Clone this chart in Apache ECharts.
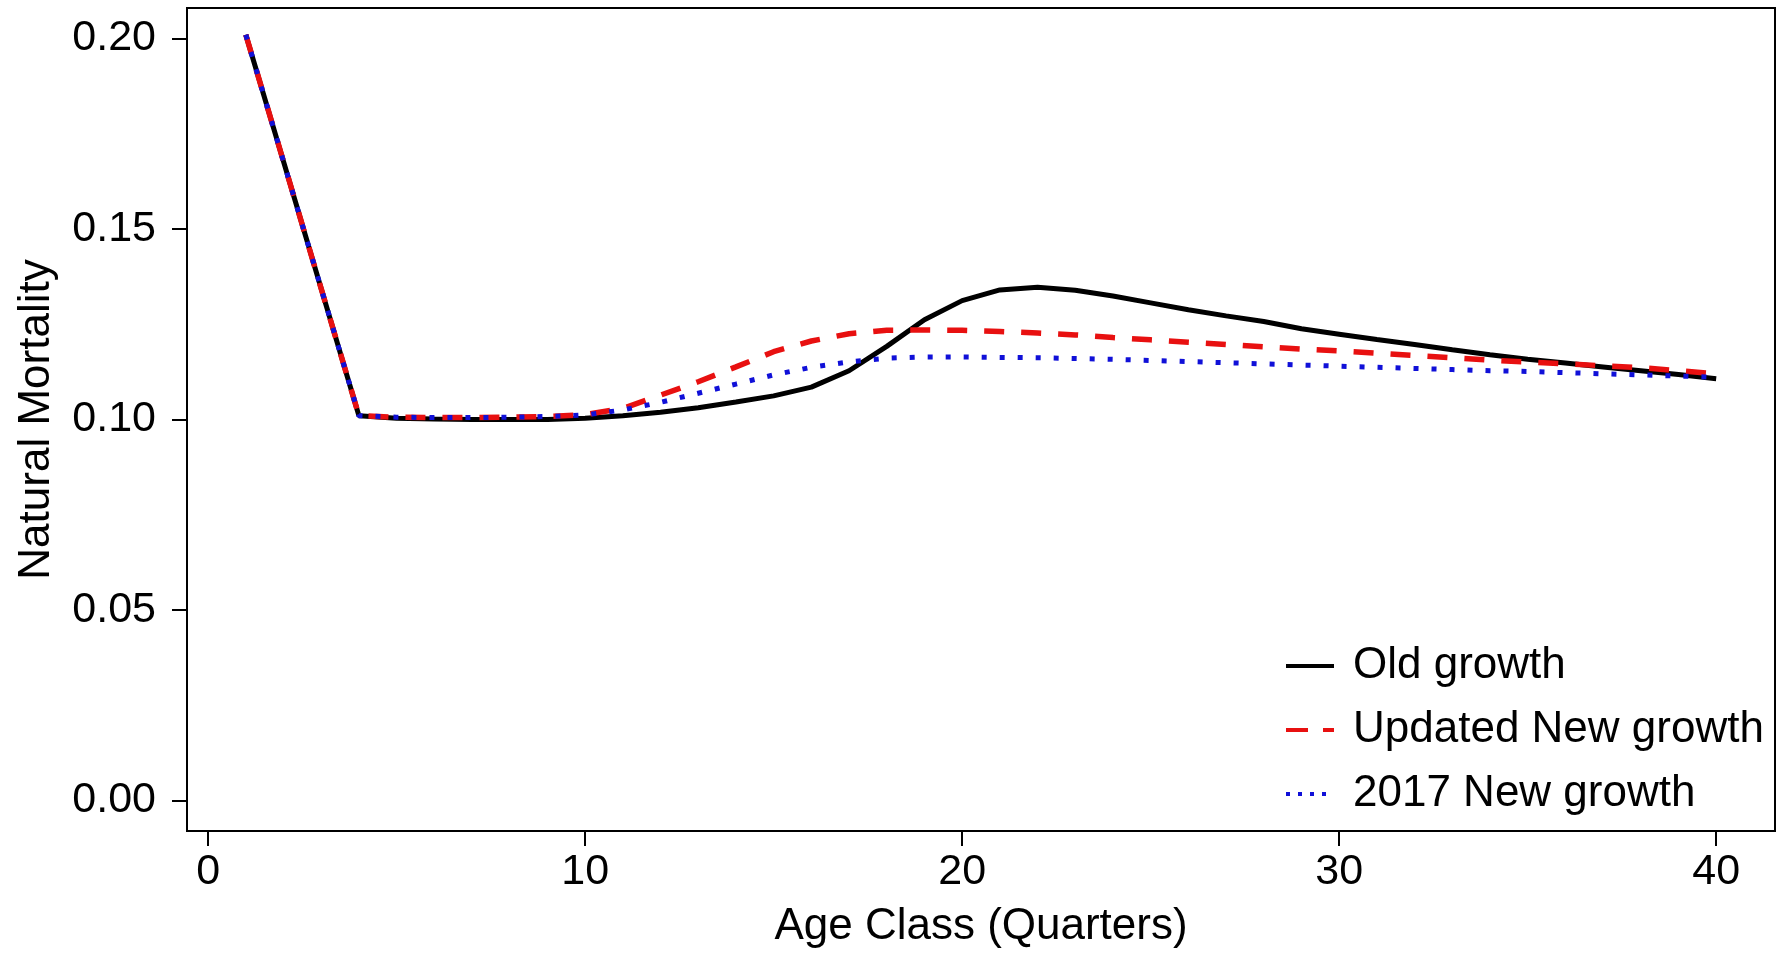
<!DOCTYPE html>
<html>
<head>
<meta charset="utf-8">
<script src="https://cdn.jsdelivr.net/npm/echarts@6/dist/echarts.min.js"></script>
<style>
html,body{margin:0;padding:0;background:#fff;}
#chart{width:1778px;height:957px;}
</style>
</head>
<body>
<div id="chart"></div>
<script>
const ages = [1,2,3,4,5,6,7,8,9,10,11,12,13,14,15,16,17,18,19,20,21,22,23,24,25,26,27,28,29,30,31,32,33,34,35,36,37,38,39,40];
const oldGrowth = [0.201,0.1677,0.1343,0.101,0.1003,0.1001,0.1,0.1,0.1,0.1003,0.101,0.1019,0.1031,0.1046,0.1062,0.1085,0.1128,0.1192,0.1262,0.1312,0.134,0.1347,0.1339,0.1324,0.1306,0.1288,0.1272,0.1257,0.1238,0.1224,0.121,0.1197,0.1183,0.117,0.1158,0.1148,0.1138,0.1128,0.1118,0.1107];
const updatedNewGrowth = [0.201,0.1677,0.1343,0.101,0.1006,0.1005,0.1005,0.1006,0.1008,0.1013,0.1029,0.1064,0.1099,0.1138,0.1178,0.1206,0.1225,0.1234,0.1235,0.1234,0.1231,0.1227,0.1222,0.1215,0.1209,0.1203,0.1197,0.1191,0.1185,0.118,0.1174,0.1168,0.1162,0.1156,0.1151,0.1146,0.1141,0.1136,0.1128,0.112];
const newGrowth2017 = [0.201,0.1677,0.1343,0.101,0.1006,0.1005,0.1005,0.1006,0.1008,0.1012,0.1025,0.1045,0.1069,0.1093,0.1117,0.1137,0.1151,0.1161,0.1164,0.1164,0.1163,0.1162,0.116,0.1158,0.1155,0.1152,0.1149,0.1146,0.1143,0.114,0.1137,0.1134,0.1131,0.1128,0.1126,0.1123,0.112,0.1117,0.1114,0.1111];
const xTicks = [0,10,20,30,40];
const yTicks = [0,0.05,0.1,0.15,0.2];
const seriesNames = ['Old growth','Updated New growth','2017 New growth'];

const FONT = 'Liberation Sans, Arial, sans-serif';
const BLACK = '#000000', RED = '#e81010', BLUE = '#1010d8';
const pair = (ys) => ages.map((a,i)=>[a, ys[i]]);

const chart = echarts.init(document.getElementById('chart'), null, {renderer:'canvas'});
chart.setOption({
  backgroundColor:'#fff',
  animation:false,
  grid:{left:187,right:3,top:8,bottom:126,show:true,borderColor:'#000',borderWidth:2,backgroundColor:'transparent'},
  legend:{
    orient:'vertical', left:1279, top:639,
    itemWidth:48, itemHeight:14, itemGap:20,
    itemStyle:{opacity:0, color:'transparent', borderWidth:0},
    lineStyle:{width:4},
    data:[
      {name:seriesNames[0], lineStyle:{width:4, color:BLACK, type:'solid'}, itemStyle:{opacity:0}},
      {name:seriesNames[1], lineStyle:{width:4, color:RED, type:[22,15]}, itemStyle:{opacity:0}},
      {name:seriesNames[2], lineStyle:{width:4, color:BLUE, type:[4,8]}, itemStyle:{opacity:0}}
    ],
    textStyle:{fontSize:44, fontFamily:FONT, color:'#000', lineHeight:44, padding:[0,0,0,14]},
    selectedMode:false
  },
  xAxis:{
    type:'value', min:-0.56, max:41.56,
    name:'Age Class (Quarters)', nameLocation:'middle', nameGap:74,
    nameTextStyle:{fontSize:44, fontFamily:FONT, color:'#000'},
    axisLine:{show:false, onZero:false},
    axisTick:{show:true, customValues:xTicks, length:15, lineStyle:{color:'#000', width:2}},
    axisLabel:{customValues:xTicks, fontSize:43, fontFamily:FONT, color:'#000', margin:20},
    splitLine:{show:false}
  },
  yAxis:{
    type:'value', min:-0.008, max:0.208,
    name:'Natural Mortality', nameLocation:'middle', nameGap:128,
    nameTextStyle:{fontSize:44, fontFamily:FONT, color:'#000'},
    axisLine:{show:false, onZero:false},
    axisTick:{show:true, customValues:yTicks, length:15, lineStyle:{color:'#000', width:2}},
    axisLabel:{customValues:yTicks, fontSize:43, fontFamily:FONT, color:'#000', margin:31, formatter:(v)=>v.toFixed(2)},
    splitLine:{show:false}
  },
  series:[
    {name:seriesNames[0], type:'line', data:pair(oldGrowth), symbol:'none', smooth:false,
     lineStyle:{color:BLACK, width:5}, itemStyle:{color:BLACK}},
    {name:seriesNames[1], type:'line', data:pair(updatedNewGrowth), symbol:'none', smooth:false,
     lineStyle:{color:RED, width:5.5, type:[20,17]}, itemStyle:{color:RED}},
    {name:seriesNames[2], type:'line', data:pair(newGrowth2017), symbol:'none', smooth:false,
     lineStyle:{color:BLUE, width:5, type:[5,13]}, itemStyle:{color:BLUE}}
  ]
});
</script>
</body>
</html>
